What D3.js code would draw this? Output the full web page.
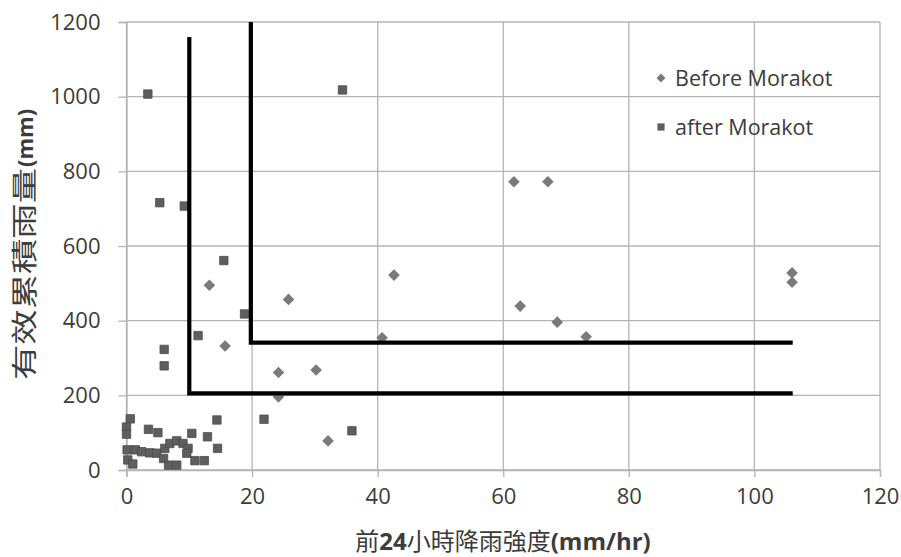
<!DOCTYPE html>
<html>
<head>
<meta charset="utf-8">
<script src="https://cdn.jsdelivr.net/npm/d3@7"></script>
<style>
  html, body { margin: 0; padding: 0; background: #fff; }
  svg { display: block; }
</style>
</head>
<body>
<svg id="chart" width="901" height="557"></svg>
<script>
// Rainfall intensity (mm/hr, previous 24 h) vs. effective accumulated rainfall (mm)
const beforeX = [61.7, 67.1, 42.6, 25.8, 13.2, 15.7, 40.7, 62.7, 68.6, 73.2, 106.0, 106.0, 24.2, 30.2, 24.2, 32.1];
const beforeY = [772, 772, 522, 457, 495, 332, 354, 439, 396, 357, 528, 503, 261, 268, 196, 78];

const afterX = [3.4, 34.4, 5.3, 9.2, 15.5, 18.8, 11.4, 6.0, 6.0, 21.9, 35.9,
  0.6, 0.0, 0.0, 0.1, 1.4, 0.2, 1.0, 2.4, 3.7, 4.8, 5.9, 6.7, 8.0, 6.1, 6.9, 8.0, 9.0, 9.8, 9.6,
  3.5, 5.0, 10.4, 12.9, 14.4, 14.5, 10.9, 12.4];
const afterY = [1007, 1018, 716, 707, 561, 418, 360, 323, 279, 136, 105,
  137, 115, 96, 54, 54, 27, 16, 49, 46, 45, 31, 13, 13, 58, 71, 78, 71, 58, 45,
  109, 100, 98, 89, 134, 58, 25, 25];

const seriesNames = ["Before Morakot", "after Morakot"];

// Threshold boundaries (intensity, accumulated rainfall)
const boundary1X = [10.0, 10.0, 106.1];
const boundary1Y = [1160, 205, 205];
const boundary2X = [19.8, 19.8, 106.1];
const boundary2Y = [1200, 341, 341];

const xTicks = [0, 20, 40, 60, 80, 100, 120];
const yTicks = [0, 200, 400, 600, 800, 1000, 1200];

const xTitleCJK1 = "前";
const xTitleNum = "24";
const xTitleCJK2 = "小時降雨強度";
const xTitleUnit = "(mm/hr)";
const yTitleCJK = "有效累積雨量";
const yTitleUnit = "(mm)";

const svg = d3.select("#chart");
const plotLeft = 126.5, plotRight = 880, plotTop = 22, plotBottom = 470;

const x = d3.scaleLinear().domain([0, 120]).range([plotLeft, plotRight]);
const y = d3.scaleLinear().domain([0, 1200]).range([plotBottom, plotTop]);

const gridColor = "#b4b4b4";
const textColor = "#3c3c3c";
const font = "'Open Sans', 'Liberation Sans', sans-serif";

// Gridlines
const grid = svg.append("g");
grid.selectAll("line.h").data(yTicks).join("line")
  .attr("x1", plotLeft).attr("x2", plotRight)
  .attr("y1", d => y(d)).attr("y2", d => y(d))
  .attr("stroke", gridColor).attr("stroke-width", 1.3);
grid.selectAll("line.v").data(xTicks).join("line")
  .attr("y1", plotTop).attr("y2", plotBottom)
  .attr("x1", d => x(d)).attr("x2", d => x(d))
  .attr("stroke", gridColor).attr("stroke-width", 1.3);

// Axes
const xAxis = svg.append("g").attr("transform", `translate(0,${plotBottom})`)
  .call(d3.axisBottom(x).tickValues(xTicks).tickFormat(d3.format("d")).tickSize(7).tickPadding(11));
const yAxis = svg.append("g").attr("transform", `translate(${plotLeft},0)`)
  .call(d3.axisLeft(y).tickValues(yTicks).tickFormat(d3.format("d")).tickSize(8).tickPadding(18));
[xAxis, yAxis].forEach(a => {
  a.selectAll(".domain").attr("stroke", gridColor).attr("stroke-width", 1.3);
  a.selectAll(".tick line").attr("stroke", gridColor).attr("stroke-width", 1.3);
  a.selectAll("text").attr("fill", textColor).attr("font-family", font).attr("font-size", 22);
});
xAxis.selectAll("text").attr("dy", "0.71em");

// Markers
const diamondPath = s => `M0,${-s}L${s},0L0,${s}L${-s},0Z`;
const squarePath = s => `M${-s},${-s}H${s}V${s}H${-s}Z`;

const beforeData = beforeX.map((v, i) => [v, beforeY[i]]);
const afterData = afterX.map((v, i) => [v, afterY[i]]);

svg.append("g").selectAll("path").data(beforeData).join("path")
  .attr("d", diamondPath(5.8))
  .attr("transform", d => `translate(${x(d[0])},${y(d[1])})`)
  .attr("fill", "#7a7a7a");

svg.append("g").selectAll("path").data(afterData).join("path")
  .attr("d", squarePath(4.2))
  .attr("transform", d => `translate(${x(d[0])},${y(d[1])})`)
  .attr("fill", "#5e5e5e").attr("stroke", "#4c4c4c").attr("stroke-width", 0.8);

// Threshold boundaries
const line = d3.line().x(d => x(d[0])).y(d => y(d[1]));
[[boundary1X, boundary1Y], [boundary2X, boundary2Y]].forEach(([bx, by]) => {
  svg.append("path")
    .attr("d", line(bx.map((v, i) => [v, by[i]])))
    .attr("fill", "none").attr("stroke", "#000").attr("stroke-width", 4.2)
    .attr("stroke-linejoin", "miter").attr("stroke-linecap", "butt");
});

// Legend
const legend = svg.append("g");
const legendRows = [
  { name: seriesNames[0], y: 78, shape: diamondPath(4.4), fill: "#7a7a7a" },
  { name: seriesNames[1], y: 127, shape: squarePath(3.6), fill: "#5e5e5e" }
];
legendRows.forEach(r => {
  legend.append("path").attr("d", r.shape)
    .attr("transform", `translate(661,${r.y})`).attr("fill", r.fill);
  legend.append("text").attr("x", 675).attr("y", r.y).attr("dy", "0.36em")
    .attr("fill", textColor).attr("font-family", font).attr("font-size", 21.5)
    .text(r.name);
});

// Axis titles
const xt = svg.append("text")
  .attr("x", 503).attr("y", 550).attr("text-anchor", "middle")
  .attr("fill", textColor).attr("font-size", 24);
xt.append("tspan").attr("font-family", "'Noto Sans CJK TC', sans-serif").text(xTitleCJK1);
xt.append("tspan").attr("font-family", font).attr("font-weight", 700).text(xTitleNum);
xt.append("tspan").attr("font-family", "'Noto Sans CJK TC', sans-serif").text(xTitleCJK2);
xt.append("tspan").attr("font-family", font).attr("font-weight", 700).text(xTitleUnit);

// Vertical title: the CJK run is widened along the reading direction
const yt = svg.append("g").attr("transform", "translate(25,251) rotate(-90)");
yt.append("g").attr("transform", "translate(-129,0) scale(1.36,1)")
  .append("text")
  .attr("x", 0).attr("y", 0).attr("dy", "0.36em")
  .attr("fill", textColor).attr("font-size", 26)
  .attr("font-family", "'Noto Sans CJK TC', sans-serif")
  .text(yTitleCJK);
yt.append("text")
  .attr("x", 84).attr("y", 0).attr("dy", "0.36em")
  .attr("fill", textColor).attr("font-size", 22).attr("font-weight", 700)
  .attr("font-family", font)
  .text(yTitleUnit);
</script>
</body>
</html>
